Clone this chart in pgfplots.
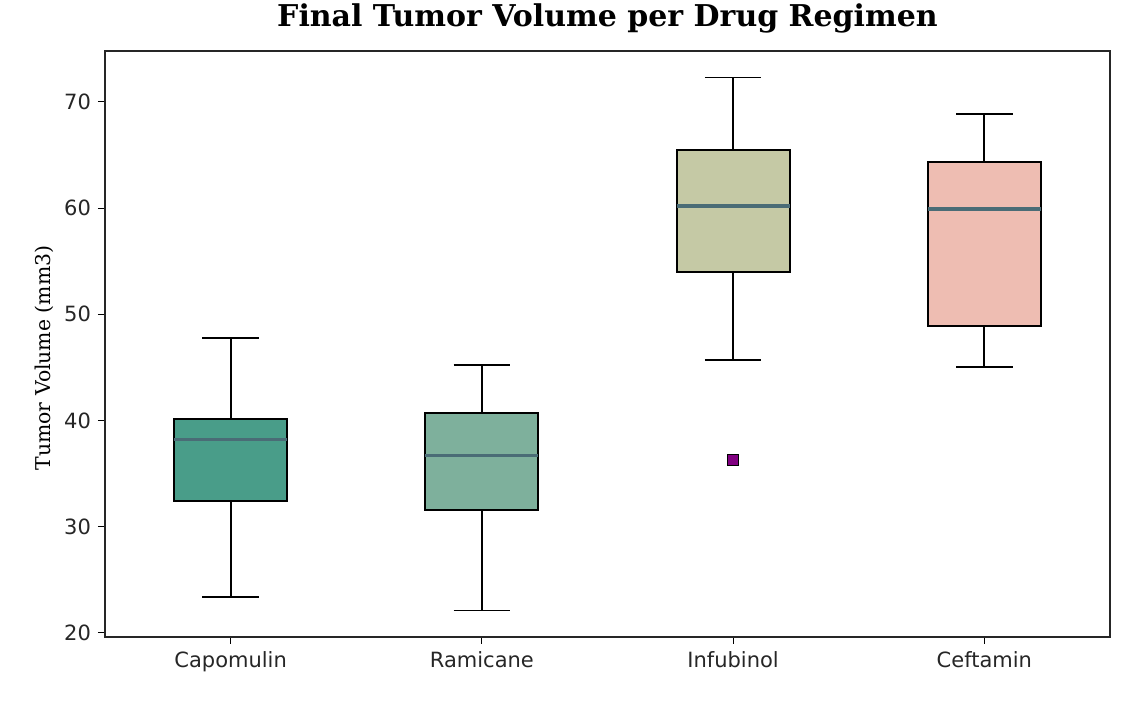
\documentclass[border=0pt]{standalone}
\usepackage{pgfplots}
\pgfplotsset{compat=1.18}
\usepgfplotslibrary{statistics}
\usepackage{fontspec}
\setmainfont{DejaVu Sans}
\newfontfamily\seriffont{DejaVu Serif}

\definecolor{capo}{HTML}{499D89}
\definecolor{rami}{HTML}{7EB09C}
\definecolor{infu}{HTML}{C5C9A5}
\definecolor{ceft}{HTML}{EEBDB2}
\definecolor{medc}{HTML}{4A6C76}
\definecolor{outl}{HTML}{800080}

\begin{document}
\begin{tikzpicture}
% page: 1148x702 px at 0.5pt per px
\path[use as bounding box] (-52.5pt,-32.5pt) rectangle (521.5pt,318.5pt);
\begin{axis}[
at={(0,0)}, anchor=south west,
width=502.5pt, height=293pt,
scale only axis,
xmin=0.5, xmax=4.5,
ymin=19.6, ymax=74.8,
xtick={1,2,3,4},
xticklabels={Capomulin,Ramicane,Infubinol,Ceftamin},
ytick={20,30,40,50,60,70},
tick align=outside,
xtick pos=bottom, ytick pos=left,
major tick length=3.5pt,
tick style={black, line width=0.5pt},
axis line style={line width=0.6pt, black!85},
tick label style={font=\fontsize{10.5}{12}\selectfont, black!85},
/pgf/number format/assume math mode=true,
title={\seriffont\bfseries\fontsize{15}{18}\selectfont Final Tumor Volume per Drug Regimen},
title style={at={(axis description cs:0.5,1)}, anchor=base, yshift=6pt},
ylabel={\seriffont\fontsize{10.2}{12}\selectfont Tumor Volume (mm3)},
ylabel style={at={(axis description cs:-0.0607,0.5)}, anchor=center, xshift=-7pt},
boxplot/draw direction=y,
boxplot/box extend=0.45,
boxplot/whisker extend=0.225,
boxplot/every whisker/.style={black, line width=0.9pt},
boxplot/every median/.style={draw=medc, line width=1.9pt},
]
\addplot[boxplot prepared={draw position=1, lower whisker=23.4, lower quartile=32.4,
  median=38.2, upper quartile=40.1, upper whisker=47.8,
  every box/.style={draw=black, fill=capo, line width=1pt}}] coordinates {};
\addplot[boxplot prepared={draw position=2, lower whisker=22.1, lower quartile=31.6,
  median=36.7, upper quartile=40.7, upper whisker=45.2,
  every box/.style={draw=black, fill=rami, line width=1pt}}] coordinates {};
\addplot[boxplot prepared={draw position=3, lower whisker=45.7, lower quartile=54.0,
  median=60.2, upper quartile=65.5, upper whisker=72.3,
  every box/.style={draw=black, fill=infu, line width=1pt}}] coordinates {};
\addplot[boxplot prepared={draw position=4, lower whisker=45.0, lower quartile=48.85,
  median=59.9, upper quartile=64.3, upper whisker=68.9,
  every box/.style={draw=black, fill=ceft, line width=1pt}}] coordinates {};
% outlier of Infubinol
\addplot[only marks, mark=square*, mark size=2.8pt,
  mark options={fill=outl, draw=black, line width=0.6pt}] coordinates {(3,36.3)};
\end{axis}
\end{tikzpicture}
\end{document}
